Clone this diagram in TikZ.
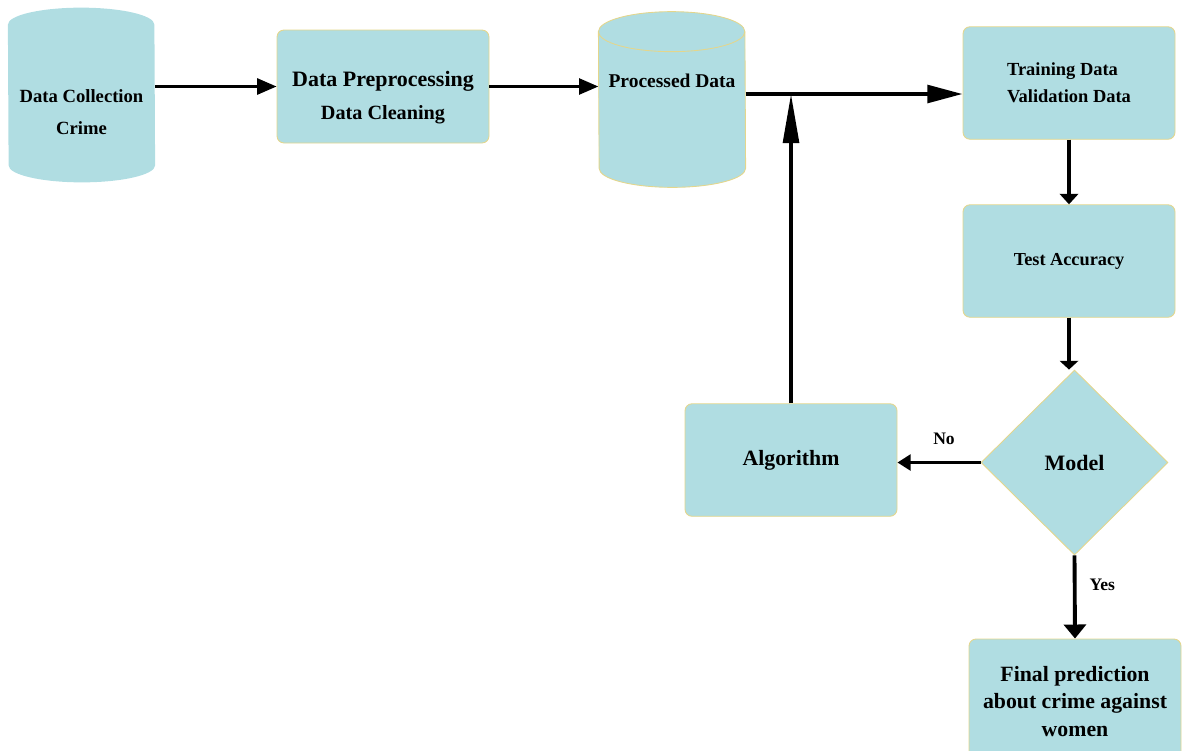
\documentclass[tikz,border=0pt]{standalone}
\usepackage{fontspec}
\setmainfont{Liberation Serif}
\usetikzlibrary{arrows.meta,calc,positioning,shapes.geometric}

\definecolor{boxfill}{RGB}{176,221,226}
\definecolor{boxedge}{RGB}{228,214,140}

\begin{document}
\begin{tikzpicture}[
		line join=miter,
		block/.style={
			rectangle,
			draw=boxedge,
			fill=boxfill,
			line width=0.5pt,
			rounded corners=4pt,
			minimum width=4.24cm,
			minimum height=2.25cm,
			align=center,
			font=\bfseries
		},
		store/.style={
			rectangle,
			inner sep=0pt,
			minimum width=2.93cm
		},
		decision/.style={
			diamond,
			draw=boxedge,
			fill=boxfill,
			line width=0.5pt,
			inner sep=0pt,
			minimum width=3.74cm,
			minimum height=3.7cm,
			font=\bfseries\fontsize{12.5}{15}\selectfont
		},
		caption/.style={
			align=center,
			inner sep=0pt,
			font=\bfseries
		},
		thinflow/.style={line width=1.7pt,-{Triangle[length=#1,width=9pt]}},
		thickflow/.style={line width=2.1pt,-{Triangle[length=#1,width=10.5pt]}}
		]
		\useasboundingbox (0,0) rectangle (23.68,-15);

		% the two data stores
		\node[store,minimum height=2.8cm] (collect) at (1.63,-1.9) {};
		\fill[boxfill] (collect.north west) arc[start angle=180,end angle=0,x radius=1.465cm,y radius=0.34cm]
			-- (collect.south east) arc[start angle=0,end angle=-180,x radius=1.465cm,y radius=0.34cm] -- cycle;
		\node[caption,font=\bfseries\fontsize{10.6}{18}\selectfont] (collecttext) at (1.63,-2.24) {Data Collection\\Crime};

		\node[store,minimum height=2.72cm] (processed) at (13.44,-2.0) {};
		\filldraw[fill=boxfill,draw=boxedge,line width=0.5pt] (processed.north west) arc[start angle=180,end angle=0,x radius=1.465cm,y radius=0.4cm]
			-- (processed.south east) arc[start angle=0,end angle=-180,x radius=1.465cm,y radius=0.38cm] -- cycle;
		\draw[boxedge,line width=0.5pt] (processed.north west) arc[start angle=180,end angle=360,x radius=1.465cm,y radius=0.4cm];
		\node[caption,font=\bfseries\fontsize{11.1}{14}\selectfont] (processedtext) at (13.44,-1.62) {Processed Data};

		% boxes
		\node[block,minimum height=2.26cm] (prep) at (7.66,-1.73) {};
		\node[caption,font=\bfseries\fontsize{11.5}{19}\selectfont] (preptext) at (7.66,-1.95) {{\fontsize{12.5}{19}\selectfont Data Preprocessing}\\Data Cleaning};

		\node[block,align=left,font=\bfseries\fontsize{10.5}{15.4}\selectfont] (train) at (21.38,-1.66) {Training Data\\ Validation Data};
		\node[block,font=\bfseries\fontsize{10.4}{14}\selectfont] (test) at (21.38,-5.22) {Test Accuracy};
		\node[decision] (model) at (21.49,-9.25) {Model};
		\node[block,font=\bfseries\fontsize{12.4}{15}\selectfont] (algo) at (15.82,-9.2) {Algorithm};
		\node[block,minimum height=2.5cm,font=\bfseries\fontsize{12.4}{15.7}\selectfont] (final) at (21.5,-14.03) {Final prediction\\about crime against\\women};

		\coordinate (join) at (algo.north |- 0,-1.88);

		% connectors
		\draw[thinflow=11pt] (collect.east |- prep.west) -- (prep.west);
		\draw[thinflow=11pt] (prep.east) -- (prep.east -| processed.west);
		\draw[line width=2.2pt,-{Triangle[length=20pt,width=10pt]}] (processed.east |- join) -- (join -| train.west);
		\draw[line width=2pt,-{Triangle[length=28pt,width=9pt]}] (algo.north) -- (join);
		\draw[thickflow=6pt] (train.south) -- (test.north);
		\draw[thickflow=5pt] (test.south) -- (test.south |- model.north);
		\draw[thinflow=7.5pt] (model.west) -- (model.west -| algo.east)
			node[midway,above=6pt,xshift=0.1cm,font=\bfseries\fontsize{10}{12}\selectfont] (no) {No};
		\draw[line width=2.2pt,-{Triangle[length=8pt,width=12.5pt]}] (model.south) -- (final.north)
			node[pos=0.35,right=4pt,font=\bfseries\fontsize{10}{12}\selectfont] (yes) {Yes};
\end{tikzpicture}
\end{document}
